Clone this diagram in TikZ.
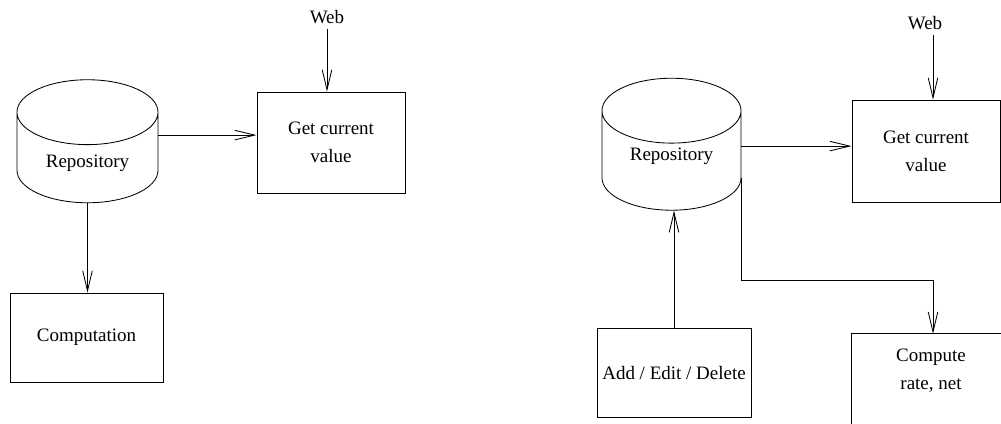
\documentclass[tikz,border=0pt]{standalone}
\usepackage{fontspec}
\setmainfont{Liberation Serif}
\usetikzlibrary{shapes.geometric,arrows.meta}

\begin{document}
\begin{tikzpicture}
[
    x=0.025cm, y=-0.025cm,
    every node/.style={font=\fontsize{13.5}{20}\selectfont},
    box/.style={draw, line width=0.6pt, align=center},
    db/.style={draw, line width=0.6pt, cylinder, shape border rotate=90, aspect=0.7},
    arr/.style={line width=0.6pt, -{Straight Barb[length=5mm,width=2.4mm]}}
]
    \useasboundingbox (0,0) rectangle (1001,423);

    \begin{scope}
        \node [db, minimum width=3.525cm, minimum height=3.075cm] (repoL) at (87.5,163.5) {Repository};
        \node [box, minimum width=3.7cm, minimum height=2.525cm] (getL) at (331,142.5) {Get current\\value};
        \node [box, minimum width=3.825cm, minimum height=2.225cm] (compL) at (86.5,337.5) {Computation};
        \node (webL) at (327,17) {Web};

        \draw [arr] (webL.south) -- (webL.south |- getL.north);
        \draw [arr] ([yshift=0.71cm]repoL.east) -- ([yshift=0.71cm]repoL.east -| getL.west);
        \draw [arr] (repoL.south) -- (repoL.south |- compL.north);
    \end{scope}

    \begin{scope}
        \node [db, minimum width=3.475cm, minimum height=3.225cm, text depth=0.6cm] (repoR) at (671.5,166.5) {Repository};
        \node [box, minimum width=3.7cm, minimum height=2.55cm] (getR) at (926,151) {Get current\\value};
        \node [box, minimum width=3.85cm, minimum height=2.225cm] (addR) at (674,372.5) {Add / Edit / Delete};
        \node [align=center, minimum width=3.95cm, minimum height=1.85cm] (compR) at (931,371) {Compute\\rate, net};
        \draw [line width=0.6pt] ([yshift=-2cm]compR.south west) |- (compR.north east) -- ([yshift=-2cm]compR.south east);
        \node (webR) at (925,23) {Web};

        \draw [arr] ([xshift=0.2cm]webR.south) -- ([xshift=0.2cm]webR.south |- getR.north);
        \draw [arr] ([yshift=0.51cm]repoR.east) -- ([yshift=0.51cm]repoR.east -| getR.west);
        \draw [arr] (addR.north) -- (addR.north |- repoR.south);
        \draw [arr] (repoR.before bottom) |- (933,280) -- (933,280 |- compR.north);
    \end{scope}
\end{tikzpicture}
\end{document}
